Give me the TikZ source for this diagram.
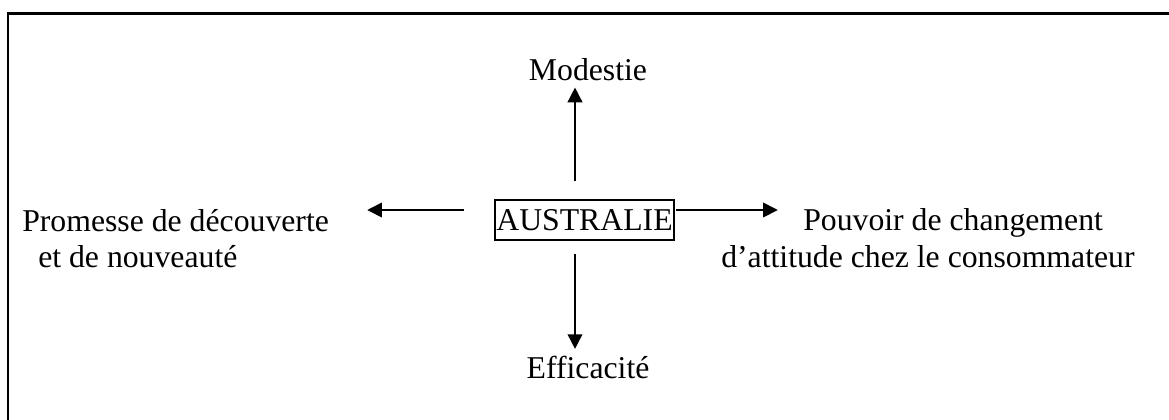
\documentclass[tikz,border=0pt]{standalone}
\usepackage{fontspec}
\setmainfont{Liberation Serif}
\usetikzlibrary{arrows.meta}
\begin{document}
\begin{tikzpicture}[x=0.75pt,y=-0.75pt,
  lbl/.style={inner sep=0pt, font=\fontsize{23.8}{28}\selectfont},
  arr/.style={line width=1.2pt, -{Triangle[length=11pt,width=11pt]}},
  frame/.style={line width=2.2pt}]
\useasboundingbox (0,0) rectangle (1169,419);
% outer frame (only top and left edges fall inside the page)
\draw[frame] (8,440) -- (8,13.5) -- (1190,13.5);

% central box
\node[lbl, draw, line width=1.4pt, minimum width=134pt, minimum height=30pt,
      text height=15.6pt, text depth=0pt] (box) at (584.5,220) {AUSTRALIE};

% surrounding labels
\node[lbl, anchor=base] (mod) at (588,80) {Modestie};
\node[lbl, anchor=base] (eff) at (588,378) {Efficacité};
\node[lbl, anchor=base west] (p1) at (22,231) {Promesse de découverte};
\node[lbl, anchor=base west] (p2) at (38,267) {et de nouveauté};
\node[lbl, anchor=base west] (c1) at (803,230) {Pouvoir de changement};
\node[lbl, anchor=base west] (c2) at (721,267) {d’attitude chez le consommateur};

% arrows
\draw[arr] ([shift={(-9.5,-18)}]box.north) -- ([shift={(-13,7)}]mod.south);
\draw[arr] ([shift={(-9.5,13)}]box.south) -- ++(0,95);
\draw[arr] ([shift={(-30,-10)}]box.west) -- ++(-97,0);
\draw[arr] ([shift={(1,-10)}]box.east) -- ++(102,0);
\end{tikzpicture}
\end{document}
